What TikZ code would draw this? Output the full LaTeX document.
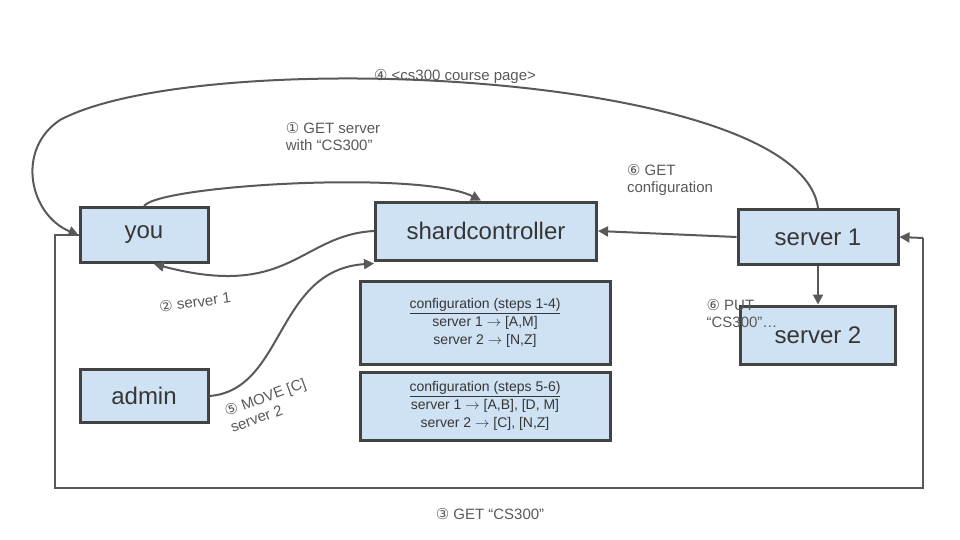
\documentclass[tikz,border=0pt]{standalone}
\usepackage{fontspec}
\setmainfont{Liberation Sans}
\newfontfamily\circfont{DejaVu Sans}
\usetikzlibrary{arrows.meta}
\definecolor{boxFill}{HTML}{CFE2F3}
\definecolor{boxLine}{HTML}{434343}
\definecolor{arrowLine}{HTML}{595959}
\newcommand{\stepno}[1]{{\circfont #1}}

\begin{document}
\begin{tikzpicture}[
  x=1pt, y=-1pt,
  every box/.style={
    draw=boxLine,
    line width=3pt,
    fill=boxFill,
    text=boxLine!80!black,
    inner sep=0pt,
  },
  box/.style={
    every box,
    minimum width=#1,
    font=\fontsize{24}{28}\selectfont,
  },
  config/.style={
    every box,
    minimum width=250pt,
    align=center,
    font=\fontsize{14}{18}\selectfont,
  },
  link/.style={
    draw=arrowLine,
    line width=2pt,
    -{Triangle[length=10pt,width=10pt]},
  },
  step label/.style={
    text=arrowLine,
    align=left,
    font=\fontsize{15}{17}\selectfont,
  },
]
\useasboundingbox (0,0) rectangle (960,540);
\node[box=128pt,minimum height=55pt] (you) at (144,235) {you};
\node[box=221pt,minimum height=58pt] (shard) at (486,231) {shardcontroller};
\node[box=160pt,minimum height=55pt] (server1) at (818,237) {server 1};
\node[box=155pt,minimum height=58pt] (server2) at (818,335) {server 2};
\node[box=128pt,minimum height=53pt] (admin) at (144,396) {admin};
\node[config,minimum height=83pt] (cfg1) at (485,323)
  {\underline{configuration (steps 1-4)}\\server 1 $\rightarrow$ [A,M]\\server 2 $\rightarrow$ [N,Z]};
\node[config,minimum height=68pt] (cfg2) at (485,406)
  {\underline{configuration (steps 5-6)}\\server 1 $\rightarrow$ [A,B], [D, M]\\server 2 $\rightarrow$ [C], [N,Z]};
% corners of the long return line
\coordinate (loopA) at (55,235);
\coordinate (loopB) at (55,488);
\coordinate (loopC) at (923,488);
\coordinate (loopD) at (923,238);
% steps
\draw[link] (you.north) .. controls (160,185) and (420,170) .. ([xshift=-5pt]shard.north);
\draw[link] (shard.west) .. controls (300,235) and (290,300) .. ([xshift=10pt]you.south);
\draw[link,-] (you.west) -- (loopA) -- (loopB) -- (loopC) -- (loopD);
\draw[link] (loopD) -- (server1.east);
\draw[link] (server1.north) .. controls (800,70) and (200,45) .. (60,120)
  .. controls (15,150) and (30,215) .. (you.west);
\draw[link] (admin.east) .. controls (285,390) and (275,270) .. ([yshift=-2pt]shard.south west);
\draw[link] (server1.west) -- (shard.east);
\draw[link] (server1.south) -- (server2.north);
% labels
\node[step label] (lbl4) at (455,77) {\stepno{④} <cs300 course page>};
\node[step label] (lbl1) at (333,137) {\stepno{①} GET server\\with “CS300”};
\node[step label] (lbl6a) at (670,180) {\stepno{⑥} GET\\configuration};
\node[step label,rotate=8] (lbl2) at (195,302) {\stepno{②} server 1};
\node[step label,rotate=20] (lbl5) at (268,405) {\stepno{⑤} MOVE [C]\\server 2};
\node[step label] (lbl6b) at (742,314) {\stepno{⑥} PUT\\“CS300”…};
\node[step label] (lbl3) at (490,514) {\stepno{③} GET “CS300”};
\end{tikzpicture}
\end{document}
